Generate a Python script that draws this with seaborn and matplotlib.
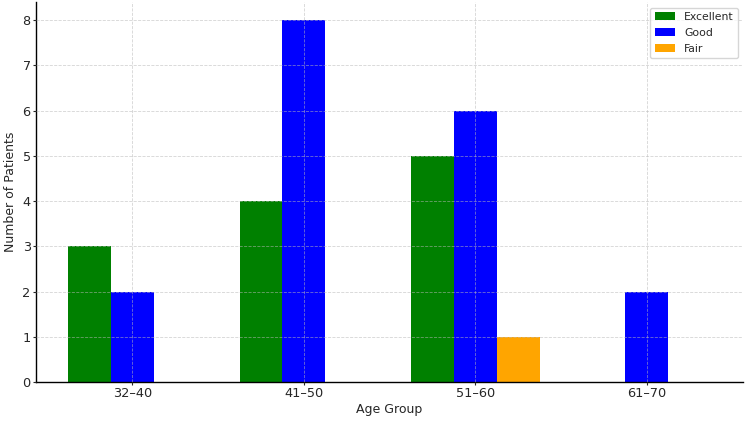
import pandas as pd
import matplotlib
matplotlib.use("Agg")
import matplotlib.pyplot as plt
import seaborn as sns

age_groups = ['32–40', '41–50', '51–60', '61–70']
excellent = [3, 4, 5, 0]
good = [2, 8, 6, 2]
fair = [0, 0, 1, 0]
ratings = ['Excellent', 'Good', 'Fair']
colors = ['green', 'blue', 'orange']

df = pd.DataFrame({
    'Age Group': age_groups * 3,
    'Rating': [r for r in ratings for _ in age_groups],
    'Count': excellent + good + fair,
})

sns.set_style('white')
plt.rcParams['font.family'] = ['DejaVu Sans']

fig = plt.figure(figsize=(7.5, 4.23), dpi=100)
ax = fig.add_axes([0.048, 0.097, 0.943, 0.898])

sns.barplot(data=df, x='Age Group', y='Count', hue='Rating', order=age_groups,
            hue_order=ratings, palette=colors, width=0.75, gap=0,
            saturation=1, linewidth=0, ax=ax, legend=True)

ax.set_xlim(-0.5625, 3.5625)
ax.set_ylim(0, 8.4)
ax.set_xlabel('Age Group', fontsize=9, labelpad=2)
ax.set_ylabel('Number of Patients', fontsize=9, labelpad=4)
ax.tick_params(axis='both', labelsize=9.3, length=2, width=0.8, pad=1.8,
               bottom=True, left=True)
ax.grid(True, linestyle='--', linewidth=0.6, color='#b8b8b8', alpha=0.6)
ax.set_axisbelow(False)
for s in ['top', 'right']:
    ax.spines[s].set_visible(False)
for s in ['left', 'bottom']:
    ax.spines[s].set_color('black')
    ax.spines[s].set_linewidth(1.0)

ax.legend(loc='upper right', fontsize=7.8, frameon=True, title=None,
          handlelength=1.9, handletextpad=0.8, labelspacing=0.55,
          borderpad=0.4, borderaxespad=0.5)

fig.savefig('out.png', dpi=100)
